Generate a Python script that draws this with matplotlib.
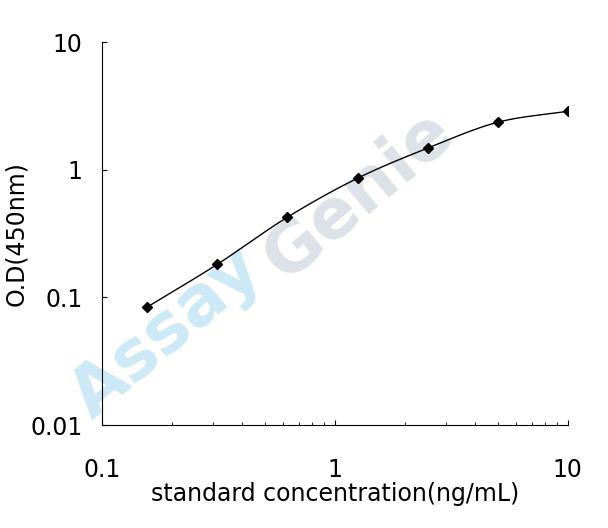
import numpy as np
import matplotlib.pyplot as plt

conc = [0.156, 0.3125, 0.625, 1.25, 2.5, 5, 10]
od = [0.084, 0.182, 0.426, 0.86, 1.48, 2.36, 2.88]


def catmull_rom(x, y, n=30):
    # smooth curve through points, done in log space
    x = np.log10(x)
    y = np.log10(y)
    px = np.concatenate([[2 * x[0] - x[1]], x, [2 * x[-1] - x[-2]]])
    py = np.concatenate([[2 * y[0] - y[1]], y, [2 * y[-1] - y[-2]]])
    xs, ys = [], []
    t = np.linspace(0, 1, n)
    for i in range(1, len(px) - 2):
        for p, out in ((px, xs), (py, ys)):
            p0, p1, p2, p3 = p[i - 1:i + 3]
            out.extend(0.5 * (2 * p1 + (-p0 + p2) * t + (2 * p0 - 5 * p1 + 4 * p2 - p3) * t ** 2
                              + (-p0 + 3 * p1 - 3 * p2 + p3) * t ** 3))
    return 10 ** np.array(xs), 10 ** np.array(ys)


fig = plt.figure(figsize=(6.08, 5.28), dpi=100)
ax = fig.add_axes([0.168, 0.195, 0.766, 0.725])

# watermark, behind the data
ax.text(0.14, 0.24, "Assay", fontsize=50, fontweight='bold', color='#cde9f6',
        rotation=40, ha='center', va='center', zorder=0, transform=ax.transAxes)
ax.text(0.55, 0.60, "Genie", fontsize=50, fontweight='bold', color='#dde2e8',
        rotation=40, ha='center', va='center', zorder=0, transform=ax.transAxes)

cx, cy = catmull_rom(conc, od)
ax.plot(cx, cy, color='black', lw=1, zorder=2)
ax.plot(conc, od, 'D', color='black', ms=5, zorder=3)

ax.set_xscale('log')
ax.set_yscale('log')
ax.set_xlim(0.1, 10)
ax.set_ylim(0.01, 10)
ax.patch.set_alpha(0)
for s in ('top', 'right'):
    ax.spines[s].set_visible(False)
ax.tick_params(axis='both', which='both', direction='in', labelsize=17)
ax.tick_params(axis='x', pad=24)
ax.tick_params(axis='y', pad=14)
ax.tick_params(axis='y', which='minor', length=0)
ax.set_xticks([0.1, 1, 10], ['0.1', '1', '10'])
ax.set_yticks([0.01, 0.1, 1, 10], ['0.01', '0.1', '1', '10'])
ax.set_xlabel('standard concentration(ng/mL)', fontsize=17, labelpad=0)
ax.set_ylabel('O.D(450nm)', fontsize=17, labelpad=2)

fig.savefig('out.png', dpi=100)
